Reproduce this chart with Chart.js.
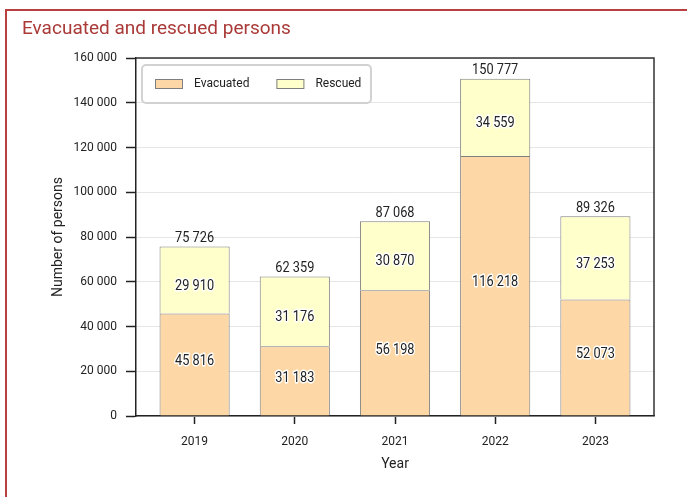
<!DOCTYPE html>
<html lang="en">
<head>
  <meta charset="UTF-8" />
  <title>Evacuated and rescued persons</title>
  <script src="https://cdn.jsdelivr.net/npm/chart.js"></script>
  <style>
    html, body { margin: 0; padding: 0; background: #fff; overflow: hidden; }
    #wrap { position: relative; width: 687px; height: 497px; }
    #frame { position: absolute; left: 5px; top: 9px; width: 720px; height: 540px; border: 2px solid #b8403f; pointer-events: none; }
    #title { position: absolute; left: 22px; top: 16px; font: 19px Roboto, sans-serif; color: #a93a38; }
    canvas { position: absolute; left: 0; top: 0; }
  </style>
</head>
<body>
  <div id="wrap">
    <canvas id="chart" width="687" height="497"></canvas>
    <div id="frame"></div>
    <div id="title">Evacuated and rescued persons</div>
  </div>

  <script>
    const years = [2019, 2020, 2021, 2022, 2023];
    const evacuated = [45816, 31183, 56198, 116218, 52073];
    const rescued = [29910, 31176, 30870, 34559, 37253];
    const totals = [75726, 62359, 87068, 150777, 89326];
    const yTicks = [0, 20000, 40000, 60000, 80000, 100000, 120000, 140000, 160000];

    const fmt = v => String(v).replace(/\B(?=(\d{3})+(?!\d))/g, ' ');
    const font = 'Roboto, sans-serif';

    // narrow-looking text: squeeze horizontally
    function label(ctx, t, x, y, halo) {
      ctx.save();
      ctx.translate(x, y);
      ctx.scale(0.85, 1);
      if (halo) {
        ctx.strokeStyle = '#fff';
        ctx.lineWidth = 3;
        ctx.strokeText(t, 0, 0);
      }
      ctx.fillStyle = '#222';
      ctx.fillText(t, 0, 0);
      ctx.restore();
    }

    // segment values with white halo + totals above the bars
    const valueLabels = {
      id: 'valueLabels',
      afterDatasetsDraw(chart) {
        const ctx = chart.ctx;
        ctx.save();
        ctx.textAlign = 'center';
        ctx.textBaseline = 'middle';
        ctx.lineJoin = 'round';
        ctx.font = '15px ' + font;
        chart.data.datasets.forEach((ds, di) => {
          chart.getDatasetMeta(di).data.forEach((bar, i) => {
            const y = (bar.y + bar.base) / 2 + (di === 0 ? -3 : 6);
            label(ctx, fmt(ds.data[i]), bar.x, y, true);
          });
        });
        chart.getDatasetMeta(1).data.forEach((bar, i) => {
          label(ctx, fmt(totals[i]), bar.x, bar.y - 8, false);
        });
        ctx.restore();
      }
    };

    // top and right sides of the plot box
    const plotBox = {
      id: 'plotBox',
      afterDraw(chart) {
        const { ctx, chartArea: a } = chart;
        ctx.save();
        ctx.strokeStyle = '#333';
        ctx.lineWidth = 1.5;
        ctx.beginPath();
        ctx.moveTo(a.left, a.top);
        ctx.lineTo(a.right, a.top);
        ctx.lineTo(a.right, a.bottom);
        ctx.stroke();
        ctx.restore();
      }
    };

    // legend in a rounded box inside the plot
    const boxLegend = {
      id: 'boxLegend',
      afterDraw(chart) {
        const { ctx, chartArea: a } = chart;
        const x0 = a.left + 6, y0 = a.top + 7, w = 229, h = 38;
        ctx.save();
        ctx.fillStyle = 'rgba(255,255,255,0.92)';
        ctx.strokeStyle = '#d2d2d2';
        ctx.lineWidth = 2;
        ctx.beginPath();
        ctx.roundRect(x0, y0, w, h, 4);
        ctx.fill();
        ctx.stroke();
        ctx.font = '12px ' + font;
        ctx.textBaseline = 'middle';
        const cy = y0 + h / 2;
        let x = x0 + 13;
        chart.data.datasets.forEach(ds => {
          ctx.fillStyle = ds.backgroundColor;
          ctx.fillRect(x, cy - 5, 28, 10);
          ctx.strokeStyle = ds.borderColor;
          ctx.lineWidth = 1;
          ctx.strokeRect(x + 0.5, cy - 4.5, 27, 9);
          ctx.fillStyle = '#222';
          ctx.fillText(ds.label, x + 39, cy);
          x += 39 + ctx.measureText(ds.label).width + 27;
        });
        ctx.restore();
      }
    };

    new Chart(document.getElementById('chart'), {
      type: 'bar',
      data: {
        labels: years,
        datasets: [
          {
            label: 'Evacuated',
            data: evacuated,
            backgroundColor: '#fdd8a6',
            borderColor: '#7f7f7f',
            borderWidth: 1,
            barPercentage: 0.7,
            categoryPercentage: 1
          },
          {
            label: 'Rescued',
            data: rescued,
            backgroundColor: '#ffffcc',
            borderColor: '#7f7f7f',
            borderWidth: 1,
            barPercentage: 0.7,
            categoryPercentage: 1
          }
        ]
      },
      options: {
        responsive: false,
        animation: false,
        devicePixelRatio: 1,
        layout: { padding: { left: 50, right: 33, top: 58, bottom: 0 } },
        plugins: {
          legend: { display: false },
          tooltip: { enabled: false },
          title: { display: false }
        },
        scales: {
          x: {
            type: 'linear',
            stacked: true,
            offset: false,
            min: 2018.415,
            max: 2023.585,
            afterFit: s => { s.height = 81; },
            grid: { offset: false, drawOnChartArea: false, drawTicks: true, tickLength: 8, tickColor: '#222', tickWidth: 1.5 },
            border: { color: '#222', width: 1.5 },
            ticks: {
              stepSize: 1,
              includeBounds: false,
              padding: 11,
              color: '#222',
              font: { family: font, size: 12 },
              callback: v => String(v)
            },
            title: { display: true, text: 'Year', color: '#222', font: { family: font, size: 14 }, padding: { top: 0, bottom: 24 } }
          },
          y: {
            stacked: true,
            min: 0,
            max: 160000,
            afterFit: s => { s.width = 86; },
            afterBuildTicks: s => { s.ticks = yTicks.map(v => ({ value: v })); },
            grid: { color: '#e6e6e6', lineWidth: 1, drawTicks: true, tickLength: 10, tickColor: '#222', tickWidth: 1.5 },
            border: { color: '#222', width: 1.5 },
            ticks: {
              padding: 9,
              color: '#222',
              font: { family: font, size: 12 },
              callback: v => fmt(v)
            },
            title: { display: true, text: 'Number of persons', color: '#222', font: { family: font, size: 14 }, padding: { top: 0, bottom: 0 } }
          }
        }
      },
      plugins: [valueLabels, plotBox, boxLegend]
    });
  </script>
</body>
</html>
